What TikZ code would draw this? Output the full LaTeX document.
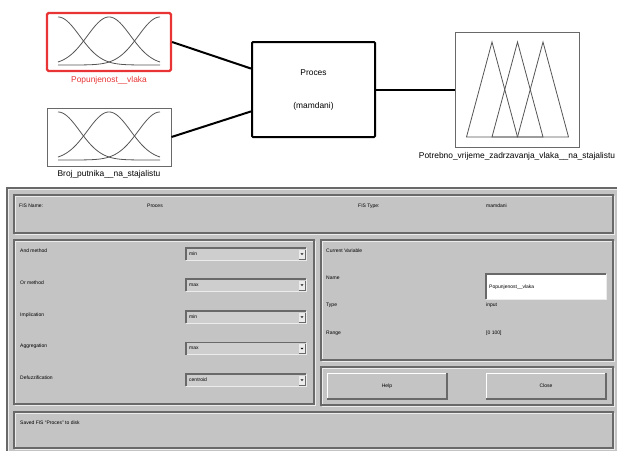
\documentclass[tikz,border=0pt]{standalone}
\usepackage{fontspec}
\setmainfont{Liberation Sans}
\usetikzlibrary{calc}
\definecolor{redb}{RGB}{232,52,52}
\definecolor{bg}{RGB}{196,196,196}
\definecolor{edge}{RGB}{105,105,105}
\definecolor{curve}{RGB}{85,85,85}
\definecolor{hl}{RGB}{236,236,236}
\definecolor{ddfill}{RGB}{206,206,206}
\newcommand\etchbox[4]{%
  \draw[hl,line width=0.7pt] (#1+1.4,#2+1.4) rectangle (#3+1.4,#4+1.4);
  \draw[edge,line width=1.2pt] (#1,#2) rectangle (#3,#4);}
\newcommand\dropbox[3]{%
  \fill[ddfill] (186,#1-6) rectangle (306,#1+6);
  \draw[hl,line width=0.8pt] (186,#1+6) -- (306,#1+6) -- (306,#1-6);
  \draw[edge,line width=1.2pt] (186,#1+6) -- (186,#1-6) -- (306,#1-6);
  \fill[hl] (299,#1-4.5) rectangle (305,#1+5);
  \draw[edge,line width=0.6pt] (299,#1+5) -- (305,#1+5) -- (305,#1-4.5);
  \fill[black] (300.6,#1-0.6) -- (303.4,#1-0.6) -- (302,#1+1) -- cycle;
  \node[sm] (#2) at (189,#1) {#3};}
\newcommand\btn[5]{%
  \draw[white,line width=1pt] (#1,#4) -- (#1,#2) -- (#3,#2);
  \draw[edge,line width=1.5pt] (#1,#4) -- (#3,#4) -- (#3,#2);}
\tikzset{
  lbl/.style={font=\fontsize{8.4}{10}\selectfont, inner sep=0pt},
  sm/.style={font=\fontsize{5}{6}\selectfont, inner sep=0pt, anchor=west},
  fbox/.style={minimum width=124pt, inner sep=0pt, fill=white},
  conn/.style={line width=2pt, black},
  curvel/.style={curve, line width=0.8pt}
}
\begin{document}
\begin{tikzpicture}[x=1pt,y=-1pt]
\useasboundingbox (0,0) rectangle (617,450);
\fill[white] (0,0) rectangle (617,450);

% ---------- top diagram ----------
\node[fbox, minimum height=58pt, draw=redb, line width=2.2pt, rounded corners=1.5pt] (in1) at (109,42) {};
\node[fbox, minimum height=58pt, draw=edge, line width=1pt] (in2) at (109,137) {};
\node[minimum width=123pt, minimum height=95pt, inner sep=0pt, draw=black, line width=2pt, rounded corners=1pt] (proces) at (313.5,89.5) {};
\node[fbox, minimum height=115pt, draw=edge, line width=1pt] (out) at (517,89.5) {};

\foreach \b in {65,160} {
  \foreach \c in {0,50,100} {
    \draw[curvel] plot[domain=0:100,samples=90,smooth] ({58+1.02*\x},{\b-48*exp(-(\x-\c)*(\x-\c)/901.4)});
  }
}
\foreach \p in {492,517.5,543} {
  \draw[curvel, line join=miter] (\p-25.5,137) -- (\p,42) -- (\p+25.5,137) -- cycle;
}

\node[lbl, text=redb] (l1) at (109,80) {Popunjenost\_\_vlaka};
\node[lbl] (l2) at (109,174) {Broj\_putnika\_\_na\_stajalistu};
\node[lbl] (pt1) at (313.5,73) {Proces};
\node[lbl] (pt2) at (313.5,106) {(mamdani)};
\node[lbl] (l3) at (517,156) {Potrebno\_vrijeme\_zadrzavanja\_vlaka\_\_na\_stajalistu};

\coordinate (p1) at ($(proces.north west)!0.284!(proces.south west)$);
\coordinate (p2) at ($(proces.north west)!0.726!(proces.south west)$);
\draw[conn] (in1.east) -- (p1);
\draw[conn] (in2.east) -- (p2);
\draw[conn] (proces.east) -- (out.west);

% ---------- bottom panel ----------
\fill[bg] (7,188) rectangle (619,452);
\draw[hl,line width=0.7pt] (8.5,452) -- (8.5,189.5) -- (619,189.5);
\draw[edge,line width=1.2pt] (7,452) -- (7,188) -- (619,188);

\etchbox{14}{195}{613}{233}
\etchbox{14}{240}{314}{404}
\etchbox{321}{240}{613}{360}
\etchbox{321}{367}{613}{405}
\etchbox{14}{412}{613}{448}

\node[sm] (fn) at (19,206) {FIS Name:};
\node[sm] (fnv) at (147,206) {Proces};
\node[sm] (ft) at (358,206) {FIS Type:};
\node[sm] (ftv) at (486,206) {mamdani};

\node[sm] (m1) at (20,251) {And method};
\node[sm] (m2) at (20,283) {Or method};
\node[sm] (m3) at (20,315) {Implication};
\node[sm] (m4) at (20,346) {Aggregation};
\node[sm] (m5) at (20,378) {Defuzzification};

\dropbox{254}{d1}{min}
\dropbox{285}{d2}{max}
\dropbox{317}{d3}{min}
\dropbox{348.5}{d4}{max}
\dropbox{380}{d5}{centroid}

\node[sm] (cv) at (326,251) {Current Variable};
\node[sm] (vn) at (326,278) {Name};
\node[sm] (vt) at (326,305) {Type};
\node[sm] (vr) at (326,333) {Range};
\fill[white] (486,274) rectangle (606,299);
\draw[edge,line width=1.2pt] (486,299) -- (486,274) -- (606,274);
\draw[hl,line width=0.7pt] (486,299) -- (606,299) -- (606,274);
\node[sm] (vnv) at (489,287) {Popunjenost\_\_vlaka};
\node[sm] (vtv) at (486,305) {input};
\node[sm] (vrv) at (486,333) {[0 100]};

\btn{327}{373}{447}{399}{}
\btn{486}{373}{606}{399}{}
\node[sm, anchor=center] (help) at (387,386) {Help};
\node[sm, anchor=center] (close) at (546,386) {Close};

\node[sm] (st) at (20,423) {Saved FIS ``Proces'' to disk};
\end{tikzpicture}
\end{document}
